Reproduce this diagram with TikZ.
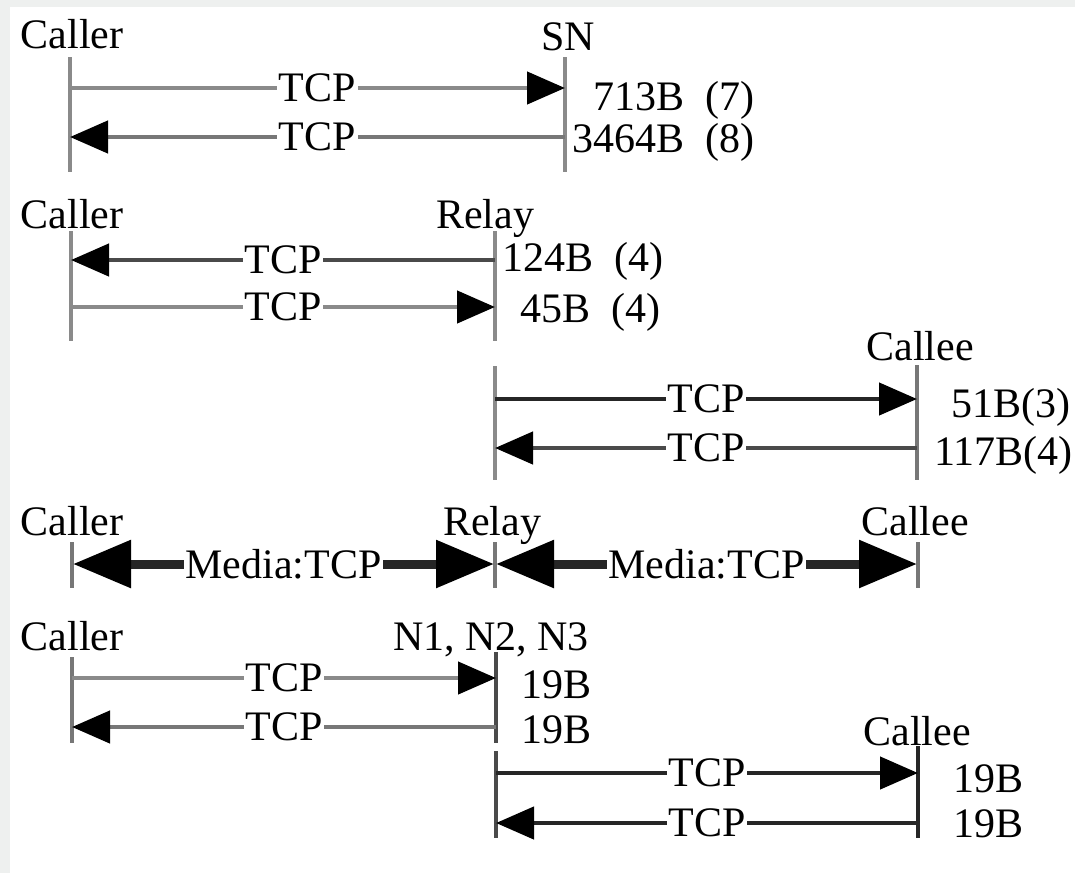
\documentclass[tikz,border=0pt]{standalone}
\usepackage{fontspec}
\setmainfont{Liberation Serif}
\usetikzlibrary{arrows.meta}
\definecolor{bggray}{HTML}{EEF0EF}
\definecolor{lgray}{HTML}{8A8A8A}
\definecolor{mgray}{HTML}{777777}
\definecolor{dgray}{HTML}{4A4A4A}
\definecolor{vdark}{HTML}{262626}
\begin{document}
\begin{tikzpicture}[x=1pt,y=-1pt,
  txt/.style={font=\fontsize{42}{48}\selectfont, inner sep=0pt, anchor=base},
  size/.style={font=\fontsize{42}{48}\selectfont, inner sep=0pt, anchor=base west},
  lbl/.style={font=\fontsize{42}{48}\selectfont, fill=white, inner sep=1.5pt},
  life/.style={line width=4pt, draw=#1},
  life/.default=lgray,
  tipR/.style={-{Triangle[length=38pt,width=32pt,color=black]}},
  tipL/.style={{Triangle[length=38pt,width=32pt,color=black]}-},
  msg/.style={line width=4.5pt, draw=#1},
  media/.style={line width=9pt, draw=vdark,
    {Triangle[length=58pt,width=46pt,color=black]}-{Triangle[length=58pt,width=46pt,color=black]}},
]
% background
\fill[bggray] (0,0) rectangle (1075,873);
\fill[white] (10,7) rectangle (1075,873);
\useasboundingbox (0,0) rectangle (1075,873);

% ---------- Section 1 ----------
\node[txt] (caller1) at (72,48) {Caller};
\node[txt] (sn) at (568,50) {SN};
\coordinate (c1t) at (70,57);  \coordinate (c1b) at (70,172);
\coordinate (s1t) at (565,57); \coordinate (s1b) at (565,172);
\draw[life] (c1t) -- (c1b);
\draw[life] (s1t) -- (s1b);
\coordinate (c1a) at (70,88);  \coordinate (s1a) at (565,88);
\coordinate (c1c) at (70,137); \coordinate (s1c) at (565,137);
\draw[msg=lgray,tipR] (c1a) -- node[lbl] (tcp1a) {TCP} (s1a);
\draw[msg=mgray,tipL] (c1c) -- node[lbl] (tcp1b) {TCP} (s1c);
\node[size] (b1a) at (593,110) {713B\enspace(7)};
\node[size] (b1b) at (572,152) {3464B\enspace(8)};

% ---------- Section 2 ----------
\node[txt] (caller2) at (72,228) {Caller};
\node[txt] (relay2) at (485,228) {Relay};
\coordinate (c2t) at (71,231);  \coordinate (c2b) at (71,341);
\coordinate (r2t) at (495,231); \coordinate (r2b) at (495,341);
\draw[life] (c2t) -- (c2b);
\draw[life] (r2t) -- (r2b);
\coordinate (c2a) at (71,260);  \coordinate (r2a) at (495,260);
\coordinate (c2c) at (71,307);  \coordinate (r2c) at (495,307);
\draw[msg=dgray,tipL] (c2a) -- node[lbl] (tcp2a) {TCP} (r2a);
\draw[msg=lgray,tipR] (c2c) -- node[lbl] (tcp2b) {TCP} (r2c);
\node[size] (b2a) at (502,271) {124B\enspace(4)};
\node[size] (b2b) at (520,322) {45B\enspace(4)};

% ---------- Section 3 ----------
\node[txt] (callee3) at (920,360) {Callee};
\coordinate (r3t) at (495,366); \coordinate (r3b) at (495,480);
\coordinate (e3t) at (917,365); \coordinate (e3b) at (917,480);
\draw[life] (r3t) -- (r3b);
\draw[life=mgray] (e3t) -- (e3b);
\coordinate (r3a) at (495,399); \coordinate (e3a) at (917,399);
\coordinate (r3c) at (495,448); \coordinate (e3c) at (917,448);
\draw[msg=vdark,tipR] (r3a) -- node[lbl] (tcp3a) {TCP} (e3a);
\draw[msg=dgray,tipL] (r3c) -- node[lbl] (tcp3b) {TCP} (e3c);
\node[size] (b3a) at (951,417) {51B(3)};
\node[size] (b3b) at (934,465) {117B(4)};

% ---------- Section 4 ----------
\node[txt] (caller4) at (72,535) {Caller};
\node[txt] (relay4) at (492,535) {Relay};
\node[txt] (callee4) at (915,535) {Callee};
\coordinate (c4t) at (72,542);  \coordinate (c4b) at (72,588);
\coordinate (r4t) at (495,542); \coordinate (r4b) at (495,588);
\coordinate (e4t) at (918,542); \coordinate (e4b) at (918,588);
\draw[life=mgray] (c4t) -- (c4b);
\draw[life=mgray] (r4t) -- (r4b);
\draw[life=mgray] (e4t) -- (e4b);
\coordinate (c4m) at (73,564);  \coordinate (r4l) at (494,564);
\coordinate (r4r) at (496,564); \coordinate (e4m) at (917,564);
\draw[media] (c4m) -- node[lbl] (med1) {Media:TCP} (r4l);
\draw[media] (r4r) -- node[lbl] (med2) {Media:TCP} (e4m);

% ---------- Section 5 ----------
\node[txt] (caller5) at (72,650) {Caller};
\node[txt] (nodes5) at (491,650) {N1, N2, N3};
\node[txt] (callee5) at (917,745) {Callee};
\coordinate (c5t) at (72,657);  \coordinate (c5b) at (72,743);
\coordinate (n5t) at (496,652); \coordinate (n5b) at (496,743);
\coordinate (n5u) at (496,751); \coordinate (n5v) at (496,838);
\coordinate (e5t) at (918,746); \coordinate (e5b) at (918,838);
\draw[life=mgray] (c5t) -- (c5b);
\draw[life=dgray] (n5t) -- (n5b);
\draw[life=dgray] (n5u) -- (n5v);
\draw[life=vdark] (e5t) -- (e5b);
\coordinate (c5a) at (72,678);  \coordinate (n5a) at (496,678);
\coordinate (c5c) at (72,727);  \coordinate (n5c) at (496,727);
\coordinate (n5d) at (496,773); \coordinate (e5d) at (918,773);
\coordinate (n5e) at (496,823); \coordinate (e5e) at (918,823);
\draw[msg=lgray,tipR] (c5a) -- node[lbl] (tcp5a) {TCP} (n5a);
\draw[msg=mgray,tipL] (c5c) -- node[lbl] (tcp5b) {TCP} (n5c);
\draw[msg=vdark,tipR] (n5d) -- node[lbl] (tcp5c) {TCP} (e5d);
\draw[msg=vdark,tipL] (n5e) -- node[lbl] (tcp5d) {TCP} (e5e);
\node[size] (b5a) at (521,698) {19B};
\node[size] (b5b) at (521,743) {19B};
\node[size] (b5c) at (953,792) {19B};
\node[size] (b5d) at (953,837) {19B};
\end{tikzpicture}
\end{document}
